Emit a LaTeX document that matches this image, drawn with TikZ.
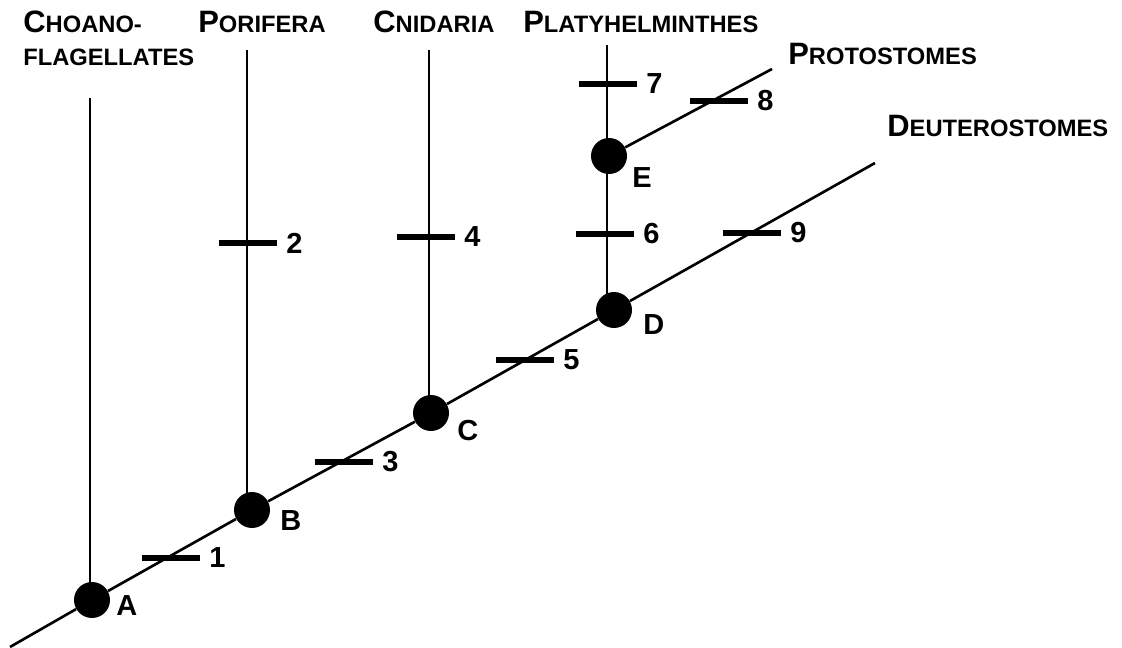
\documentclass[tikz,border=0pt]{standalone}
\usepackage{fontspec}
\setmainfont{Liberation Sans}
\usetikzlibrary{positioning}
\usetikzlibrary{backgrounds}
\tikzset{clade/.style = {fill, circle, inner sep = 0, minimum size = 0.72cm}}
\tikzset{trait/.style = {fill, rectangle, inner sep = 0, minimum width = 1.16cm, minimum height = 3.8pt}}
\tikzset{num/.style = {inner sep = 0, label distance = 5pt, font = \fontsize{16.5}{18}\selectfont\bfseries}}
\tikzset{taxon/.style = {anchor = base west, inner sep = 0, font = \bfseries}}
\tikzset{branch/.style = {line width = 1.5pt}}
\newcommand{\taxname}[2]{{\fontsize{17.6}{20}\selectfont #1}{\fontsize{13.5}{16}\selectfont #2}}

\begin{document}
\begin{tikzpicture}[x = 0.02cm, y = -0.02cm]
    \useasboundingbox (0, 0) rectangle (1122, 648);
    \node [clade] (A) at (92, 600) {};
    \node [clade] (B) at (252, 510) {};
    \node [clade] (C) at (431, 413) {};
    \node [clade] (D) at (614, 310) {};
    \node [clade] (E) at (609, 156) {};
    \coordinate (root) at (10, 647);
    \coordinate (choano) at (90, 98);
    \coordinate (pori) at (247, 50);
    \coordinate (cnid) at (429, 50);
    \coordinate (platy) at (607, 45);
    \coordinate (proto) at (772, 69);
    \coordinate (deut) at (875, 163);
    \begin{scope}[on background layer]
      \draw [branch] (root) -- (A) -- (B) -- (C) -- (D) -- (deut);
      \draw [branch] (choano) -- (choano |- A);
      \draw [branch] (pori) -- (pori |- B);
      \draw [branch] (cnid) -- (cnid |- C);
      \draw [branch] (platy) -- (platy |- D);
      \draw [branch] (E) -- (proto);
    \end{scope}
    % characters
    \node [trait, label = {[num]right:1}] (t1) at (171, 558) {};
    \node [trait, label = {[num]right:2}] (t2) at (248, 243) {};
    \node [trait, label = {[num]right:3}] (t3) at (344, 462) {};
    \node [trait, label = {[num]right:4}] (t4) at (426, 237) {};
    \node [trait, label = {[num]right:5}] (t5) at (525, 360) {};
    \node [trait, label = {[num]right:6}] (t6) at (605, 234) {};
    \node [trait, label = {[num]right:7}] (t7) at (608, 84) {};
    \node [trait, label = {[num]right:8}] (t8) at (719, 101) {};
    \node [trait, label = {[num]right:9}] (t9) at (752, 233) {};
    % node letters
    \node [num, anchor = base west] (lA) at (116, 615) {A};
    \node [num, anchor = base west] (lB) at (280, 530) {B};
    \node [num, anchor = base west] (lC) at (457, 440) {C};
    \node [num, anchor = base west] (lD) at (643, 335) {D};
    \node [num, anchor = base west] (lE) at (632, 188) {E};
    % taxa
    \node [taxon] (choanoA) at (23, 33) {\taxname{C}{HOANO-}};
    \node [taxon] (choanoB) at (23, 66) {\taxname{}{FLAGELLATES}};
    \node [taxon] (poriT) at (198, 33) {\taxname{P}{ORIFERA}};
    \node [taxon] (cnidT) at (373, 33) {\taxname{C}{NIDARIA}};
    \node [taxon] (platyT) at (523, 33) {\taxname{P}{LATYHELMINTHES}};
    \node [taxon] (protoT) at (788, 65) {\taxname{P}{ROTOSTOMES}};
    \node [taxon] (deutT) at (887, 137) {\taxname{D}{EUTEROSTOMES}};
\end{tikzpicture}
\end{document}
